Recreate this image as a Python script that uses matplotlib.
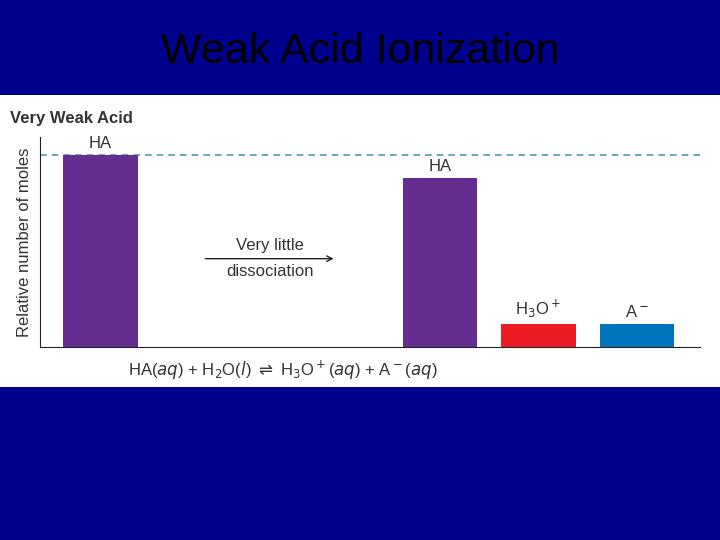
import matplotlib
matplotlib.use('Agg')
from matplotlib import pyplot as plt

# bar data
species = ['HA', 'HA', 'H$_3$O$^+$', 'A$^-$']
positions = [0, 3.45, 4.45, 5.45]
moles = [100, 88, 12, 12]
colors = ['#662d91', '#662d91', '#ed1c24', '#0075be']
initial_level = 100

NAVY = '#00008f'
TEXT = '#333333'
FONT = ['Liberation Sans Narrow', 'Liberation Sans', 'DejaVu Sans']


def main():
    fig = plt.figure(figsize=(7.2, 5.4), dpi=100)
    fig.patch.set_facecolor(NAVY)

    # white picture panel
    panel = fig.add_axes([0, 153 / 540, 1, 292 / 540])
    panel.set_facecolor('white')
    panel.set_xticks([])
    panel.set_yticks([])
    for s in panel.spines.values():
        s.set_visible(False)

    fig.text(0.5, 1 - 52 / 540, 'Weak Acid Ionization', ha='center', va='center',
             fontsize=31, color='black', family='Liberation Sans')

    ax = fig.add_axes([40 / 720, 193 / 540, 660 / 720, 210 / 540])
    ax.set_facecolor('none')
    ax.bar(positions, moles, width=0.76, color=colors, zorder=2)
    ax.axhline(initial_level, color='#4a9eab', lw=1.2, dashes=(4, 3), zorder=1)
    ax.set_xlim(-0.61, 6.09)
    ax.set_ylim(0, 109.4)
    ax.spines['top'].set_visible(False)
    ax.spines['right'].set_visible(False)
    ax.spines['left'].set_color('#222222')
    ax.spines['bottom'].set_color('#222222')
    ax.set_xticks([])
    ax.set_yticks([])

    for x, h, name in zip(positions, moles, species):
        ax.text(x, h + 2, name, ha='center', va='bottom', fontsize=12,
                color=TEXT, family=FONT)

    ax.set_ylabel('Relative number of moles', fontsize=12, color=TEXT,
                  family=FONT, labelpad=6)

    fig.text(10 / 720, 1 - 118 / 540, 'Very Weak Acid', ha='left', va='center',
             fontsize=12, fontweight='bold', color=TEXT, family=FONT)

    # "very little dissociation" arrow
    ax.annotate('', xy=(2.4, 46), xytext=(1.04, 46),
                arrowprops=dict(arrowstyle='->', color='#222222', lw=1))
    ax.text(1.72, 49, 'Very little', ha='center', va='bottom', fontsize=12,
            color=TEXT, family=FONT)
    ax.text(1.72, 43, 'dissociation', ha='center', va='top', fontsize=12,
            color=TEXT, family=FONT)

    fig.text(283 / 720, 1 - 370 / 540,
             r'HA($aq$) + H$_2$O($l$) $\rightleftharpoons$ H$_3$O$^+$($aq$) + A$^-$($aq$)',
             ha='center', va='center', fontsize=12, color=TEXT, family=FONT)

    fig.savefig('out.png', dpi=100, facecolor=NAVY)


if __name__ == '__main__':
    main()
